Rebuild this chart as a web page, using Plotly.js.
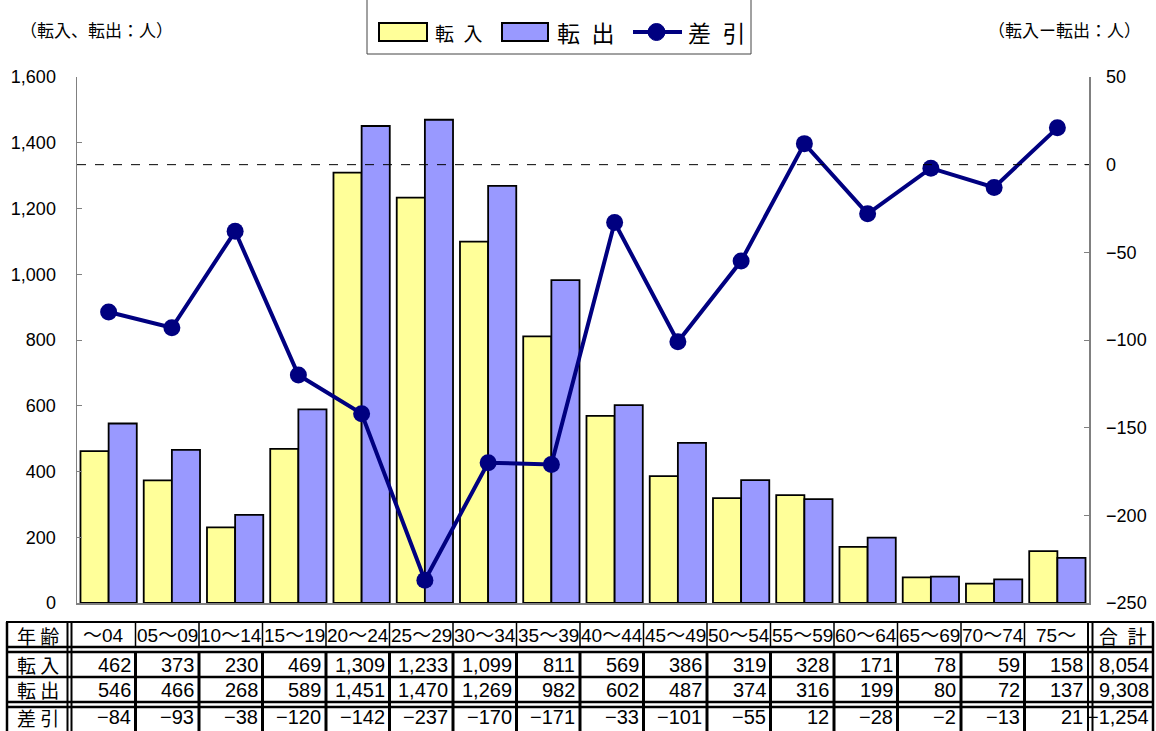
<!DOCTYPE html>
<html><head><meta charset="utf-8">
<script src="https://cdn.plot.ly/plotly-3.0.1.min.js"></script>
<style>html,body{margin:0;padding:0;background:#fff}#chart{width:1156px;height:731px}</style>
</head><body><div id="chart"></div>
<script>
const cats = ['～04','05～09','10～14','15～19','20～24','25～29','30～34','35～39','40～44','45～49','50～54','55～59','60～64','65～69','70～74','75～'];
const tennyu = [462,373,230,469,1309,1233,1099,811,569,386,319,328,171,78,59,158];
const tenshutsu = [546,466,268,589,1451,1470,1269,982,602,487,374,316,199,80,72,137];
const sabiki = [-84,-93,-38,-120,-142,-237,-170,-171,-33,-101,-55,12,-28,-2,-13,21];
const totalLabel = '合\u2002計';
const totals = [8054, 9308, -1254];
const rowHeads = ['年 齢','転 入','転 出','差 引'];
const seriesNames = ['転\u2002入','転\u2002出','差\u2002引'];
const leftTitle = '（転入、転出：人）';
const rightTitle = '（転入ー転出：人）';

const W=1156,H=731,L=77,R=1089,T=77,B=603;
const px=x=>(x-L)/(R-L), py=y=>(B-y)/(B-T);
const NUM="'Liberation Sans Narrow','Arial Narrow','Liberation Sans','Noto Sans CJK JP',sans-serif";
const JP="'Noto Sans CJK JP',sans-serif";
function fmt(v){const s=Math.abs(v).toString().replace(/\B(?=(\d{3})+(?!\d))/g,',');return (v<0?'−':'')+s;}

const traces=[
 {type:'bar',x:cats,y:tennyu,name:seriesNames[0],marker:{color:'#FFFF99',line:{color:'#000',width:1.8}},showlegend:false},
 {type:'bar',x:cats,y:tenshutsu,name:seriesNames[1],marker:{color:'#9999FF',line:{color:'#000',width:1.8}},showlegend:false},
 {type:'scatter',mode:'lines+markers',x:cats,y:sabiki,yaxis:'y2',name:seriesNames[2],line:{color:'#000080',width:4},marker:{color:'#000080',size:17},showlegend:false}
];

const shapes=[], ann=[];
shapes.push({type:'line',xref:'paper',x0:0,x1:1,yref:'y2',y0:0,y1:0,line:{color:'#000',width:1,dash:'dash'}});
// legend
shapes.push({type:'rect',xref:'paper',yref:'paper',x0:px(367),x1:px(751),y0:py(-5),y1:py(54),line:{color:'#444',width:1},fillcolor:'rgba(0,0,0,0)'});
shapes.push({type:'rect',xref:'paper',yref:'paper',x0:px(379),x1:px(427),y0:py(23),y1:py(41),line:{color:'#000',width:2},fillcolor:'#FFFF99'});
shapes.push({type:'rect',xref:'paper',yref:'paper',x0:px(502),x1:px(548),y0:py(23),y1:py(41),line:{color:'#000',width:2},fillcolor:'#9999FF'});
shapes.push({type:'line',xref:'paper',yref:'paper',x0:px(633),x1:px(682),y0:py(32),y1:py(32),line:{color:'#000080',width:4}});
shapes.push({type:'circle',xref:'paper',yref:'paper',x0:px(648),x1:px(665),y0:py(23.5),y1:py(40.5),line:{color:'#000080',width:1},fillcolor:'#000080'});
ann.push({xref:'paper',yref:'paper',x:px(433),y:py(32),xanchor:'left',yanchor:'middle',text:seriesNames[0],showarrow:false,font:{family:JP,size:19,color:'#000'}});
ann.push({xref:'paper',yref:'paper',x:px(555),y:py(32),xanchor:'left',yanchor:'middle',text:seriesNames[1],showarrow:false,font:{family:JP,size:23,color:'#000'}});
ann.push({xref:'paper',yref:'paper',x:px(686),y:py(32),xanchor:'left',yanchor:'middle',text:seriesNames[2],showarrow:false,font:{family:JP,size:23,color:'#000'}});
ann.push({xref:'paper',yref:'paper',x:px(18),y:py(30),xanchor:'left',yanchor:'middle',text:leftTitle,showarrow:false,font:{family:JP,size:17,color:'#000'}});
ann.push({xref:'paper',yref:'paper',x:px(1143),y:py(30),xanchor:'right',yanchor:'middle',text:rightTitle,showarrow:false,font:{family:JP,size:17,color:'#000'}});

// table
const c0=72, cw=63.5, n=cats.length, cEnd=c0+cw*n;
const rTop=622, rH1=647, rH2=652, rMid=677, rD1=702, rD2=707, rBot=735;
const hl=(y,w)=>shapes.push({type:'line',xref:'paper',yref:'paper',x0:px(6),x1:px(1154),y0:py(y),y1:py(y),line:{color:'#000',width:w}});
hl(rTop,2); hl(rH1,2.5); hl(rH2,2.5); hl(rMid,2.5); hl(rD1,2.5); hl(rD2,2.5);
const vl=(x,y0,y1,w)=>shapes.push({type:'line',xref:'paper',yref:'paper',x0:px(x),x1:px(x),y0:py(y0),y1:py(y1),line:{color:'#000',width:w}});
vl(7,rTop,rBot,2.5); vl(1153,rTop,rBot,2.5);
vl(67.5,rTop,rBot,2); vl(71.5,rTop,rBot,2);
vl(cEnd,rTop,rBot,2); vl(cEnd+4.5,rTop,rBot,2);
for(let k=1;k<n;k++){vl(c0+cw*k,rTop,rH1,1.5); vl(c0+cw*k,rH2,rBot,3);}
const rowY=[635,664.5,689.5,717.5];
rowHeads.forEach((t,i)=>ann.push({xref:'paper',yref:'paper',x:px(37.5),y:py(rowY[i]),xanchor:'center',yanchor:'middle',text:t,showarrow:false,font:{family:JP,size:19,color:'#000'}}));
const rows=[tennyu,tenshutsu,sabiki];
cats.forEach((c,k)=>{
  ann.push({xref:'paper',yref:'paper',x:px(c0+cw*k+cw/2),y:py(rowY[0]),xanchor:'center',yanchor:'middle',text:c,showarrow:false,font:{family:NUM,size:19,color:'#000'}});
  rows.forEach((arr,r)=>ann.push({xref:'paper',yref:'paper',x:px(c0+cw*(k+1)-3),y:py(rowY[r+1]),xanchor:'right',yanchor:'middle',text:fmt(arr[k]),showarrow:false,font:{family:NUM,size:20,color:'#000'}}));
});
ann.push({xref:'paper',yref:'paper',x:px((cEnd+4.5+1153)/2),y:py(rowY[0]),xanchor:'center',yanchor:'middle',text:totalLabel,showarrow:false,font:{family:JP,size:19,color:'#000'}});
totals.forEach((v,r)=>ann.push({xref:'paper',yref:'paper',x:px(1151),y:py(rowY[r+1]),xanchor:'right',yanchor:'middle',text:fmt(v),showarrow:false,font:{family:NUM,size:20,color:'#000'}}));

const layout={
 width:W,height:H,margin:{l:L,r:W-R,t:T,b:H-B,pad:0},
 paper_bgcolor:'#fff',plot_bgcolor:'#fff',
 barmode:'group',bargap:0.11,bargroupgap:0,
 showlegend:false,
 separators:'.,',
 xaxis:{type:'category',range:[-0.5,cats.length-0.5],showticklabels:false,ticks:'',showline:true,linecolor:'#808080',linewidth:1.5,showgrid:false,zeroline:false,fixedrange:true},
 yaxis:{range:[0,1600],dtick:200,tick0:0,tickformat:',d',ticks:'inside',ticklen:5,tickcolor:'#808080',showline:true,linecolor:'#808080',linewidth:1.5,showgrid:false,zeroline:false,ticklabelstandoff:16,tickfont:{family:NUM,size:18,color:'#000'}},
 yaxis2:{overlaying:'y',side:'right',range:[-250,50],dtick:50,tick0:-250,ticks:'inside',ticklen:5,tickcolor:'#808080',showline:true,linecolor:'#808080',linewidth:1.5,showgrid:false,zeroline:false,ticklabelstandoff:12,tickfont:{family:NUM,size:18,color:'#000'}},
 shapes:shapes,annotations:ann
};
Plotly.newPlot('chart',traces,layout,{displayModeBar:false,staticPlot:true});
</script></body></html>
